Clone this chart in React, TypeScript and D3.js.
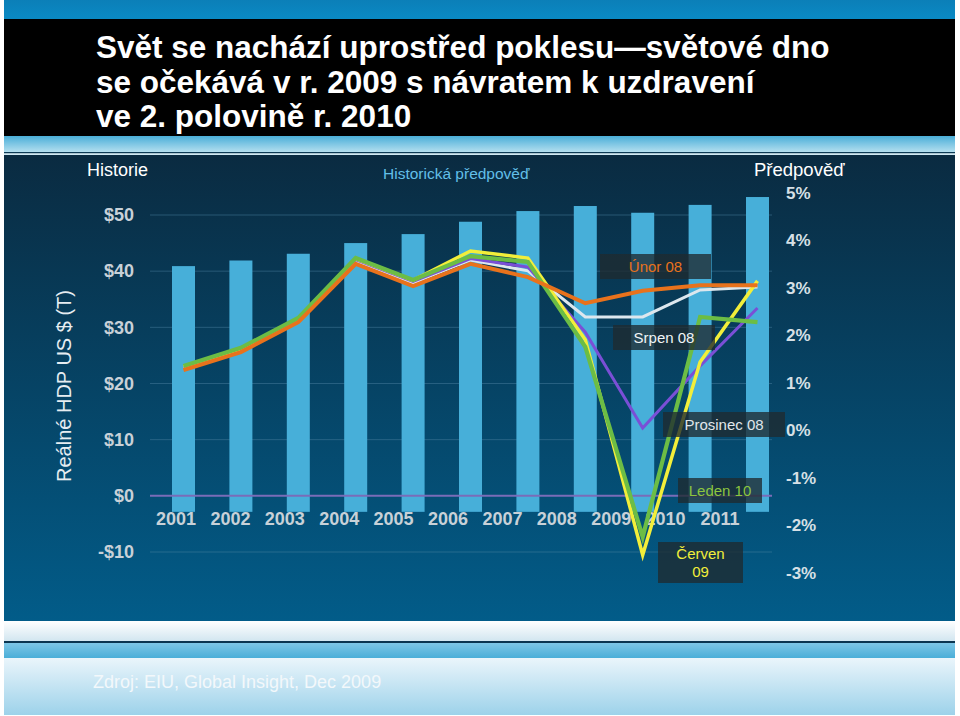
import React from "react";
import * as d3 from "d3";

const years = ["2001", "2002", "2003", "2004", "2005", "2006", "2007", "2008", "2009", "2010", "2011"];
const gdpTrillions = [40.9, 41.9, 43.1, 45.0, 46.6, 48.8, 50.7, 51.6, 50.4, 51.8, 53.2];
const barBase = -2.85;
const leftTicks = [-10, 0, 10, 20, 30, 40, 50];
const rightTicks = [5, 4, 3, 2, 1, 0, -1, -2, -3];

const forecastUnor08 = [1.27, 1.65, 2.28, 3.51, 3.04, 3.51, 3.23, 2.68, 2.94, 3.06, 3.06];
const forecastSrpen08 = [1.32, 1.69, 2.33, 3.57, 3.11, 3.59, 3.36, 2.39, 2.39, 2.96, 3.02];
const forecastProsinec08 = [1.33, 1.70, 2.35, 3.60, 3.14, 3.62, 3.44, 2.07, 0.05, 1.36, 2.58];
const forecastCerven09 = [1.35, 1.72, 2.36, 3.62, 3.16, 3.78, 3.63, 1.91, -2.62, 1.44, 3.15];
const forecastLeden10 = [1.36, 1.74, 2.37, 3.63, 3.17, 3.67, 3.55, 1.76, -2.24, 2.39, 2.28];

const titleLines = [
  "Svět se nachází uprostřed poklesu\u2014světové dno",
  "se očekává v r. 2009 s návratem k uzdravení",
  "ve 2. polovině r. 2010",
];

const FONT = "'Liberation Sans', Arial, Helvetica, sans-serif";

export default function App() {
  const xBar = d3.scalePoint<string>().domain(years).range([183.5, 757.5]);
  const xLabel = d3.scalePoint<string>().domain(years).range([176, 720]);
  const yL = d3.scaleLinear().domain([-10, 50]).range([552, 215]);
  const yR = d3.scaleLinear().domain([-3, 5]).range([573, 193]);
  const barW = 23;

  const line = d3
    .line<number>()
    .x((_, i) => xBar(years[i]) as number)
    .y((d) => yR(d));

  const series = [
    { name: "Srpen 08", values: forecastSrpen08, color: "#dde7ee", w: 3 },
    { name: "Prosinec 08", values: forecastProsinec08, color: "#7a4fd6", w: 3 },
    { name: "Červen 09", values: forecastCerven09, color: "#f2ee3a", w: 3.5 },
    { name: "Leden 10", values: forecastLeden10, color: "#6cbd45", w: 4.2 },
    { name: "Únor 08", values: forecastUnor08, color: "#e8721c", w: 4 },
  ];

  const boxes = [
    { lines: ["Únor 08"], color: "#e8721c", x: 600, y: 254, w: 111, h: 25 },
    { lines: ["Srpen 08"], color: "#f0f4f6", x: 613, y: 325, w: 102, h: 25 },
    { lines: ["Prosinec 08"], color: "#e0e6ea", x: 663, y: 412, w: 122, h: 25 },
    { lines: ["Leden 10"], color: "#8cc63f", x: 678, y: 478, w: 84, h: 25 },
    { lines: ["Červen", "09"], color: "#f2ee3a", x: 658, y: 542, w: 85, h: 41 },
  ];

  return (
    <svg
      width={960}
      height={716}
      style={{ position: "absolute", left: 0, top: 0, fontFamily: FONT }}
    >
      <defs>
        <linearGradient id="panel" x1="0" y1="0" x2="0" y2="1">
          <stop offset="0" stopColor="#0a2b41" />
          <stop offset="1" stopColor="#025c89" />
        </linearGradient>
        <linearGradient id="topStrip" x1="0" y1="0" x2="0" y2="1">
          <stop offset="0" stopColor="#0b7fb8" />
          <stop offset="1" stopColor="#0a8ac4" />
        </linearGradient>
        <linearGradient id="subStrip" x1="0" y1="0" x2="0" y2="1">
          <stop offset="0" stopColor="#4aaed8" />
          <stop offset="1" stopColor="#b4dfef" />
        </linearGradient>
        <linearGradient id="footWhite" x1="0" y1="0" x2="0" y2="1">
          <stop offset="0" stopColor="#ffffff" />
          <stop offset="1" stopColor="#d2e6f0" />
        </linearGradient>
        <linearGradient id="footBlue" x1="0" y1="0" x2="0" y2="1">
          <stop offset="0" stopColor="#7ec6e6" />
          <stop offset="1" stopColor="#4aaed8" />
        </linearGradient>
        <linearGradient id="footLight" x1="0" y1="0" x2="0" y2="1">
          <stop offset="0" stopColor="#eaf5fb" />
          <stop offset="1" stopColor="#9dd2ea" />
        </linearGradient>
      </defs>

      <rect x={0} y={0} width={960} height={716} fill="#ffffff" />
      {/* header */}
      <rect x={4} y={0} width={951} height={19} fill="url(#topStrip)" />
      <rect x={4} y={19} width={951} height={117} fill="#000000" />
      <rect x={4} y={136} width={951} height={16} fill="url(#subStrip)" />
      <rect x={4} y={152} width={951} height={1.5} fill="#0c3a55" />
      <rect x={4} y={153.5} width={951} height={1.5} fill="#cfe9f4" />
      {/* chart panel */}
      <rect x={4} y={155} width={951} height={466} fill="url(#panel)" />
      {/* footer */}
      <rect x={4} y={621} width={951} height={20} fill="url(#footWhite)" />
      <rect x={4} y={641} width={951} height={2} fill="#0b3550" />
      <rect x={4} y={643} width={951} height={15} fill="url(#footBlue)" />
      <rect x={4} y={658} width={951} height={57} fill="url(#footLight)" />

      {titleLines.map((t, i) => (
        <text
          key={i}
          x={96}
          y={58 + i * 34.5}
          fill="#ffffff"
          fontSize={31.5}
          fontWeight="bold"
        >
          {t}
        </text>
      ))}

      {/* gridlines */}
      {leftTicks
        .filter((v) => v !== 0)
        .map((v) => (
          <line
            key={v}
            x1={150}
            x2={772}
            y1={yL(v)}
            y2={yL(v)}
            stroke="#4f84a4"
            strokeOpacity={0.45}
            strokeWidth={1}
          />
        ))}

      {/* bars */}
      {years.map((yr, i) => (
        <rect
          key={yr}
          x={(xBar(yr) as number) - barW / 2}
          y={yL(gdpTrillions[i])}
          width={barW}
          height={yL(barBase) - yL(gdpTrillions[i])}
          fill="#47afd9"
        />
      ))}

      {/* zero line */}
      <line x1={150} x2={772} y1={yL(0)} y2={yL(0)} stroke="#7a6cb8" strokeWidth={2} />

      {/* left axis */}
      {leftTicks.map((v) => (
        <text
          key={v}
          x={134}
          y={yL(v)}
          dy="0.35em"
          textAnchor="end"
          fill="#c8d1d8"
          fontSize={18}
          fontWeight="bold"
        >
          {v < 0 ? `-$${Math.abs(v)}` : `$${v}`}
        </text>
      ))}
      {/* right axis */}
      {rightTicks.map((v) => (
        <text
          key={v}
          x={786}
          y={yR(v)}
          dy="0.35em"
          textAnchor="start"
          fill="#d6e0e6"
          fontSize={17}
          fontWeight="bold"
        >
          {`${v}%`}
        </text>
      ))}
      {/* x labels */}
      {years.map((yr) => (
        <text
          key={yr}
          x={xLabel(yr) as number}
          y={519}
          dy="0.35em"
          textAnchor="middle"
          fill="#c8d1d8"
          fontSize={18}
          fontWeight="bold"
        >
          {yr}
        </text>
      ))}

      {/* y axis title */}
      <text
        transform="translate(71,386) rotate(-90)"
        textAnchor="middle"
        fill="#e6edf1"
        fontSize={20}
      >
        Reálné HDP US $ (T)
      </text>

      {/* header labels */}
      <text x={87} y={176} fill="#ffffff" fontSize={18}>
        Historie
      </text>
      <text x={383} y={179} fill="#62bfe8" fontSize={15.5}>
        Historická předpověď
      </text>
      <text x={754} y={176} fill="#ffffff" fontSize={18.5}>
        Předpověď
      </text>

      {/* forecast lines */}
      {series.map((s) => (
        <path
          key={s.name}
          d={line(s.values) || ""}
          fill="none"
          stroke={s.color}
          strokeWidth={s.w}
          strokeLinejoin="miter"
        />
      ))}

      {/* annotation boxes */}
      {boxes.map((b) => (
        <g key={b.lines.join(" ")}>
          <rect x={b.x} y={b.y} width={b.w} height={b.h} fill="#1f2a30" fillOpacity={0.78} />
          {b.lines.map((t, i) => (
            <text
              key={i}
              x={b.x + b.w / 2}
              y={b.y + (b.lines.length === 1 ? b.h / 2 : 12 + i * 17.5)}
              dy="0.35em"
              textAnchor="middle"
              fill={b.color}
              fontSize={15}
            >
              {t}
            </text>
          ))}
        </g>
      ))}

      {/* source */}
      <text x={93} y={688} fill="#f3f8fb" fontSize={18}>
        Zdroj: EIU, Global Insight, Dec 2009
      </text>
    </svg>
  );
}
